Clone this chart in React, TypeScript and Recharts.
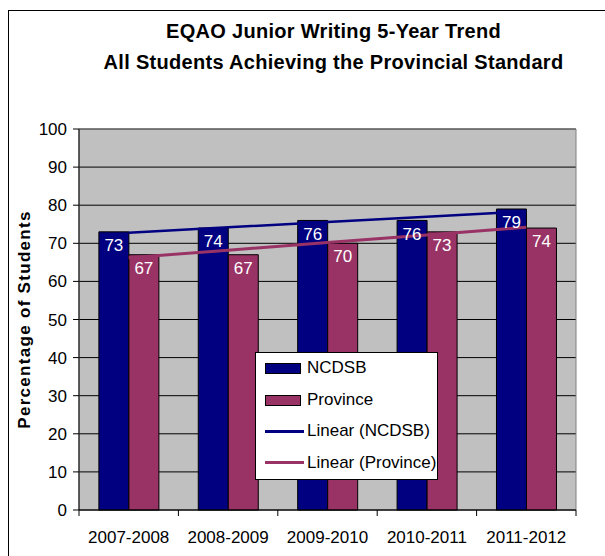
import React from 'react';
import {
  ComposedChart,
  Bar,
  Line,
  XAxis,
  YAxis,
  CartesianGrid,
  Legend,
  LabelList,
  Label,
  ReferenceArea,
} from 'recharts';

const years = ['2007-2008', '2008-2009', '2009-2010', '2010-2011', '2011-2012'];
const ncdsb = [73, 74, 76, 76, 79];
const province = [67, 67, 70, 73, 74];
// linear trendlines as drawn in the original chart
const ncdsbTrend = [72.8, 74.2, 75.6, 77.0, 78.4];
const provinceTrend = [66.2, 68.2, 70.2, 72.2, 74.2];
const yTicks = [0, 10, 20, 30, 40, 50, 60, 70, 80, 90, 100];

const chartData = years.map((year, i) => ({
  year,
  ncdsb: ncdsb[i],
  province: province[i],
  ncdsbTrend: ncdsbTrend[i],
  provinceTrend: provinceTrend[i],
}));

const FONT = '"Liberation Sans", Arial, sans-serif';
const NAVY = '#000080';
const PLUM = '#993366';

const CHART_W = 605;
const CHART_H = 556;
const MARGIN = { top: 129, right: 29, bottom: 16, left: 0 };
const Y_AXIS_W = 79;
const BAND = (CHART_W - MARGIN.right - MARGIN.left - Y_AXIS_W) / years.length;

const YearTick = (props: any) => {
  const { x, y, payload, index } = props;
  const left = x - BAND / 2;
  const right = x + BAND / 2;
  return (
    <g>
      <line x1={left} y1={y - 6} x2={left} y2={y} stroke="#000" />
      {index === years.length - 1 && <line x1={right} y1={y - 6} x2={right} y2={y} stroke="#000" />}
      <text x={x} y={y} dy={27} textAnchor="middle" fontFamily={FONT} fontSize={17} fill="#000">
        {payload.value}
      </text>
    </g>
  );
};

const LegendBox = (props: any) => {
  const raw = props.payload || [];
  // bars first, then the trendlines
  const items = [...raw.filter((p: any) => p.type !== 'line'), ...raw.filter((p: any) => p.type === 'line')];
  return (
    <div
      style={{
        width: '100%',
        height: '100%',
        boxSizing: 'border-box',
        background: '#fff',
        border: '1px solid #000',
        position: 'relative',
        fontFamily: FONT,
        fontSize: 17,
        color: '#000',
      }}
    >
      {items.map((item: any, i: number) => {
        const isLine = item.type === 'line';
        return (
          <div
            key={item.value}
            style={{ position: 'absolute', left: 0, top: 5 + i * 31.6, height: 20, width: '100%' }}
          >
            {isLine ? (
              <div style={{ position: 'absolute', left: 9, top: 8.5, width: 39, height: 3, background: item.color }} />
            ) : (
              <div
                style={{
                  position: 'absolute',
                  left: 9,
                  top: 5,
                  width: 36,
                  height: 11,
                  boxSizing: 'border-box',
                  background: item.color,
                  border: '1px solid #000',
                }}
              />
            )}
            <span style={{ position: 'absolute', left: 51, top: 0, lineHeight: '20px', whiteSpace: 'nowrap' }}>
              {item.value}
            </span>
          </div>
        );
      })}
    </div>
  );
};

const App: React.FC = () => {
  return (
    <div style={{ position: 'fixed', left: 0, top: 0, width: CHART_W, height: CHART_H, overflow: 'hidden', background: '#fff' }}>
      <div
        style={{
          position: 'absolute',
          left: 8,
          top: 10,
          width: 700,
          height: 700,
          border: '1px solid #000',
        }}
      />
      <div
        style={{
          position: 'absolute',
          left: 0,
          width: 667,
          top: 16,
          textAlign: 'center',
          fontFamily: FONT,
          fontWeight: 'bold',
          fontSize: 20,
          lineHeight: '31px',
          letterSpacing: 0.3,
          color: '#000',
        }}
      >
        <div>EQAO Junior Writing 5-Year Trend</div>
        <div>All Students Achieving the Provincial Standard</div>
      </div>
      <div style={{ position: 'absolute', left: 0, top: 0 }}>
        <ComposedChart
          width={CHART_W}
          height={CHART_H}
          data={chartData}
          margin={MARGIN}
          barGap={0}
          barCategoryGap="20%"
        >
          <CartesianGrid vertical={false} stroke="#000" fill="#C0C0C0" fillOpacity={1} />
          <ReferenceArea y1={0} y2={100} fill="none" stroke="#808080" strokeWidth={1} ifOverflow="visible" />
          <XAxis
            dataKey="year"
            height={30}
            interval={0}
            tickLine={false}
            tickSize={6}
            tickMargin={0}
            axisLine={{ stroke: '#000' }}
            tick={<YearTick />}
          />
          <YAxis
            width={Y_AXIS_W}
            domain={[0, 100]}
            ticks={yTicks}
            interval={0}
            tickSize={6}
            tickMargin={6}
            axisLine={{ stroke: '#000' }}
            tickLine={{ stroke: '#000' }}
            tick={{ fill: '#000', fontSize: 17, fontFamily: FONT }}
          >
            <Label
              content={(p: any) => {
                const vb = p.viewBox || {};
                const cy = (vb.y ?? MARGIN.top) + (vb.height ?? 381) / 2;
                return (
                  <text
                    x={24}
                    y={cy}
                    transform={`rotate(-90 24 ${cy})`}
                    textAnchor="middle"
                    dominantBaseline="central"
                    fontFamily={FONT}
                    fontWeight="bold"
                    fontSize={17}
                    letterSpacing={1.3}
                    fill="#000"
                  >
                    Percentage of Students
                  </text>
                );
              }}
            />
          </YAxis>
          <Bar dataKey="ncdsb" name="NCDSB" fill={NAVY} stroke="#000" strokeWidth={1} isAnimationActive={false}>
            <LabelList dataKey="ncdsb" position="insideTop" offset={7} fill="#fff" fontSize={17} fontFamily={FONT} />
          </Bar>
          <Bar dataKey="province" name="Province" fill={PLUM} stroke="#000" strokeWidth={1} isAnimationActive={false}>
            <LabelList dataKey="province" position="insideTop" offset={7} fill="#fff" fontSize={17} fontFamily={FONT} />
          </Bar>
          <Line
            dataKey="ncdsbTrend"
            name="Linear (NCDSB)"
            type="linear"
            stroke={NAVY}
            strokeWidth={2.5}
            dot={false}
            activeDot={false}
            legendType="line"
            isAnimationActive={false}
          />
          <Line
            dataKey="provinceTrend"
            name="Linear (Province)"
            type="linear"
            stroke={PLUM}
            strokeWidth={3}
            dot={false}
            activeDot={false}
            legendType="line"
            isAnimationActive={false}
          />
          <Legend
            layout="vertical"
            align="center"
            verticalAlign="middle"
            content={<LegendBox />}
            wrapperStyle={{ position: 'absolute', left: 255, top: 352, width: 183, height: 128, margin: 0 }}
          />
        </ComposedChart>
      </div>
    </div>
  );
};

export default App;
